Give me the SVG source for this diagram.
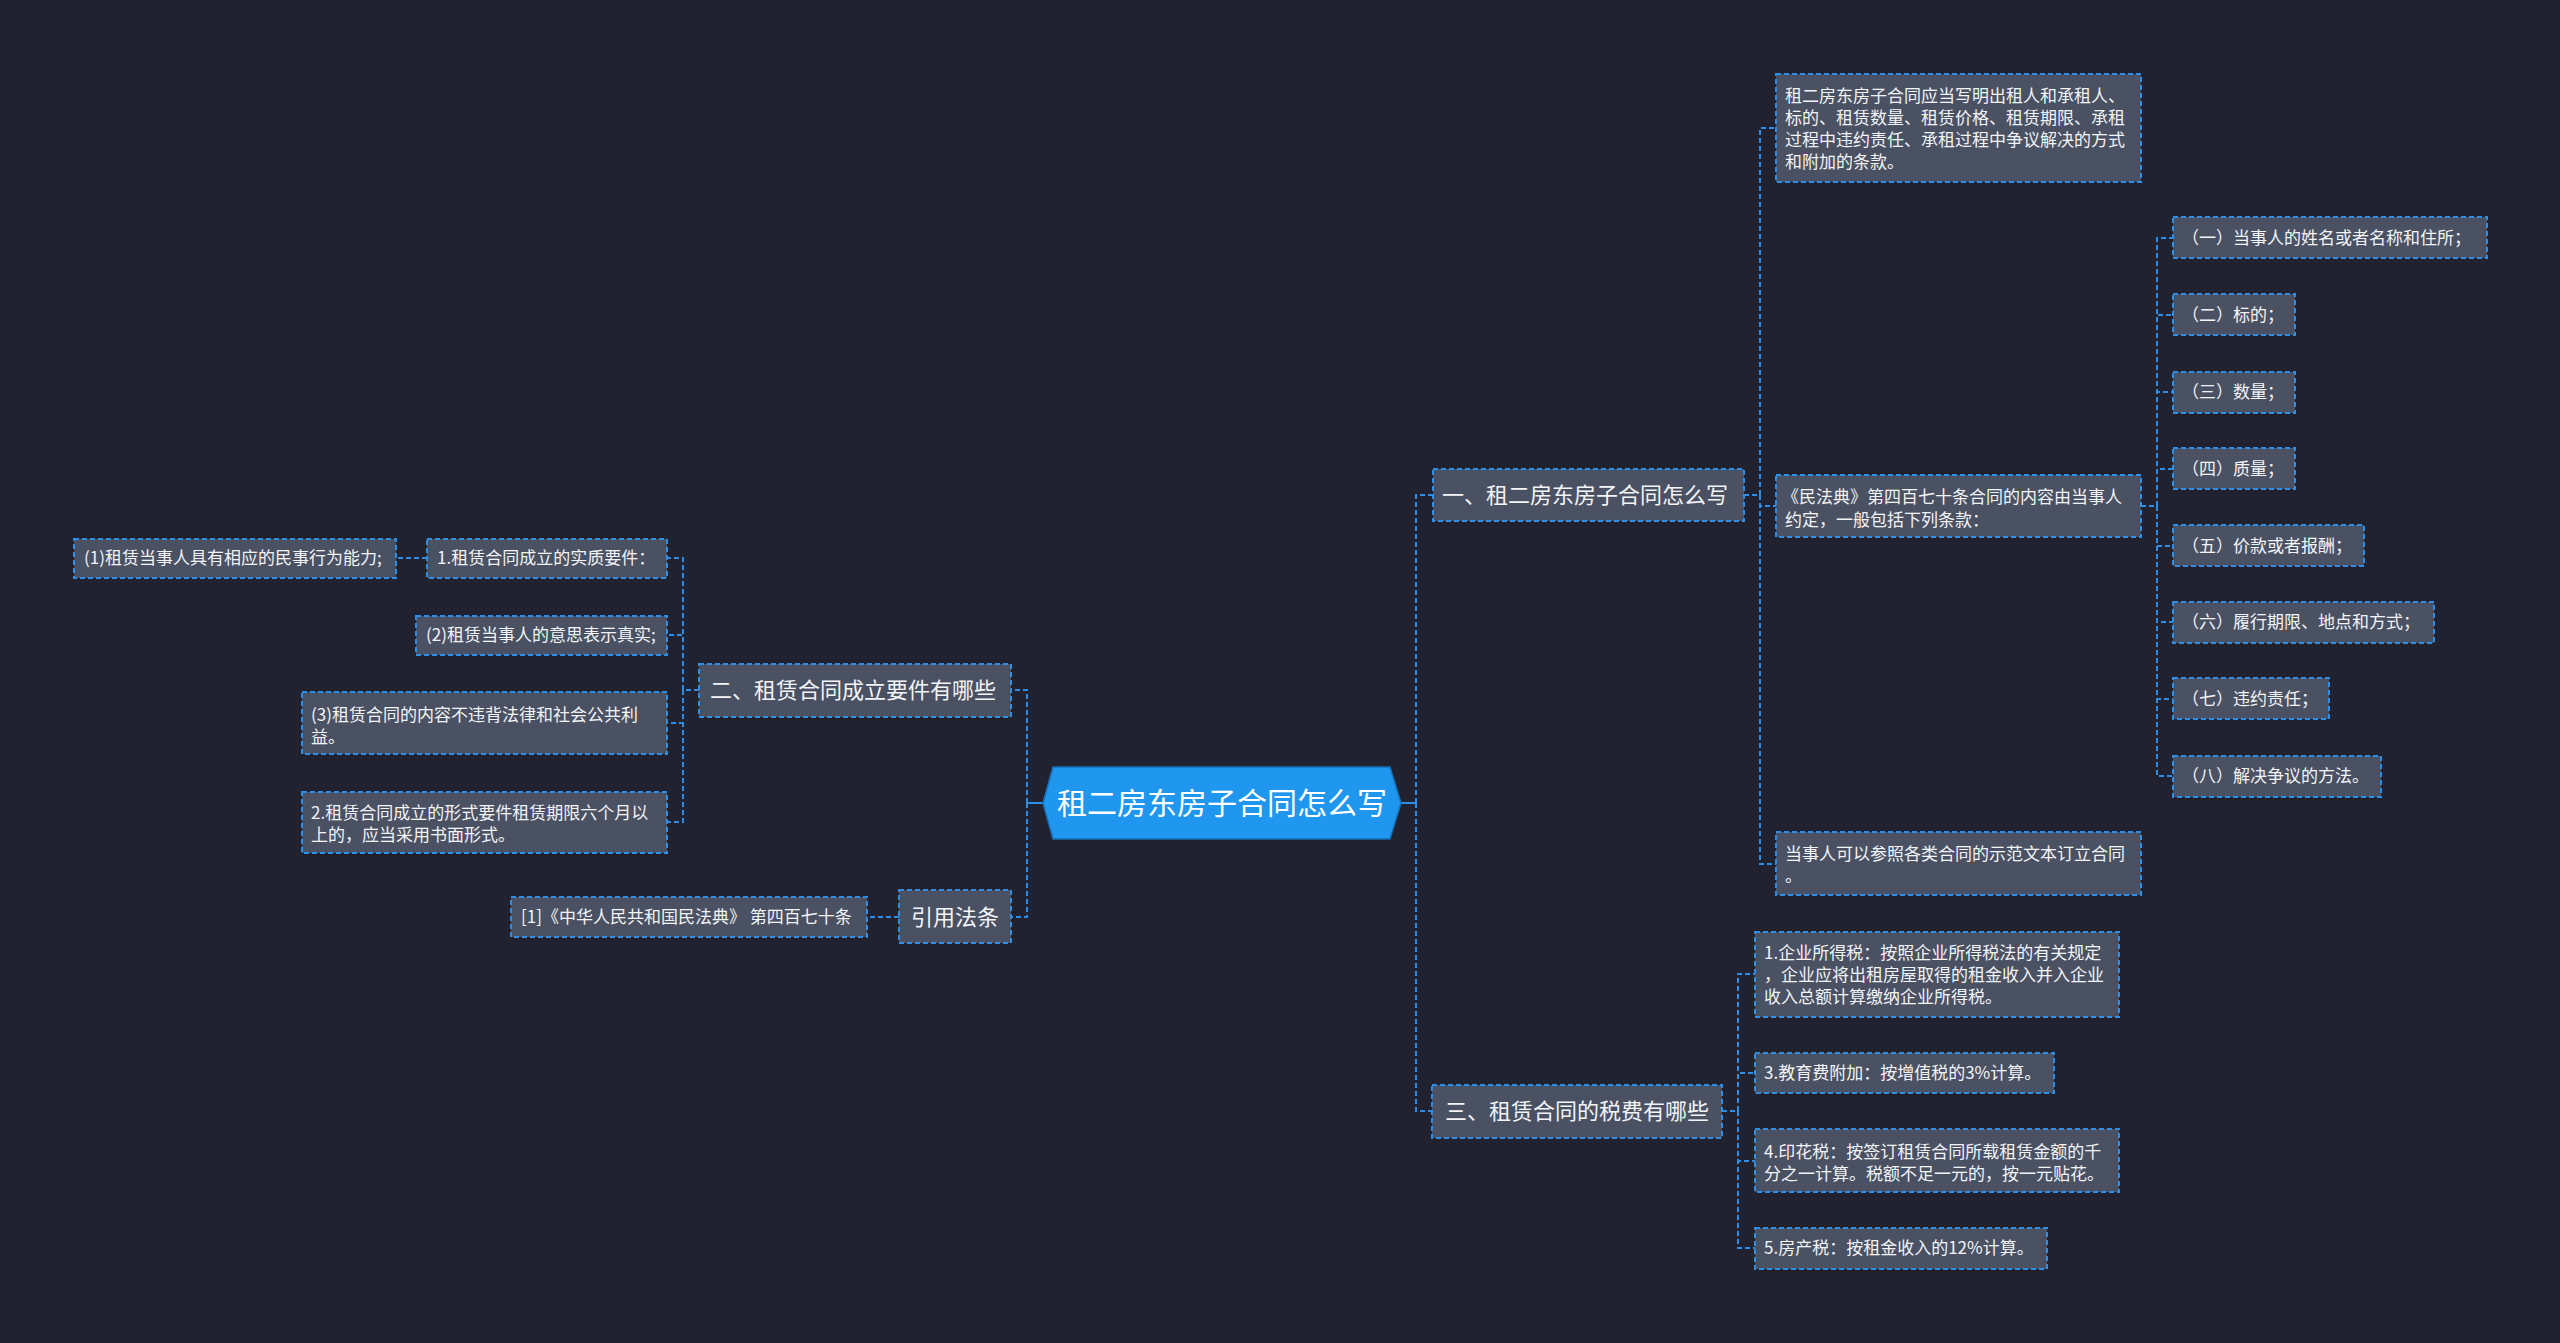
<svg xmlns="http://www.w3.org/2000/svg" width="2560" height="1343" viewBox="0 0 2560 1343">
<style>
.bg{fill:#20232f}
.box{fill:#4a5162;stroke:#2d8ee6;stroke-width:2;stroke-dasharray:5 3}
.ln{fill:none;stroke:#2d8ee6;stroke-width:2;stroke-dasharray:5 3}
.solid{fill:none;stroke:#2d8ee6;stroke-width:2}
text{font-family:"Noto Sans CJK SC","Noto Sans",sans-serif;fill:#f2f4f8}
.t{font-size:17px}
.b{font-size:22px}
.c{font-size:30px;fill:#ffffff}
</style>
<rect class="bg" x="0" y="0" width="2560" height="1343"/>
<g id="connectors">
  <path class="solid" d="M1401,803 H1416"/>
  <path class="solid" d="M1043,803 H1027"/>
  <path class="ln" d="M1416,803 V495 H1433"/>
  <path class="ln" d="M1416,803 V1111 H1432"/>
  <path class="ln" d="M1027,803 V690 H1011"/>
  <path class="ln" d="M1027,803 V917 H1011"/>
  <path class="ln" d="M1744,495 H1760 V128 H1776"/>
  <path class="ln" d="M1744,495 H1760 V506 H1776"/>
  <path class="ln" d="M1744,495 H1760 V864 H1776"/>
  <path class="ln" d="M2141,506 H2157 V238 H2173"/>
  <path class="ln" d="M2141,506 H2157 V315 H2173"/>
  <path class="ln" d="M2141,506 H2157 V392 H2173"/>
  <path class="ln" d="M2141,506 H2157 V469 H2173"/>
  <path class="ln" d="M2141,506 H2157 V546 H2173"/>
  <path class="ln" d="M2141,506 H2157 V622 H2173"/>
  <path class="ln" d="M2141,506 H2157 V699 H2173"/>
  <path class="ln" d="M2141,506 H2157 V776 H2173"/>
  <path class="ln" d="M699,690 H683 V558 H667"/>
  <path class="ln" d="M699,690 H683 V635 H667"/>
  <path class="ln" d="M699,690 H683 V723 H667"/>
  <path class="ln" d="M699,690 H683 V822 H667"/>
  <path class="ln" d="M427,558 H396"/>
  <path class="ln" d="M899,917 H867"/>
  <path class="ln" d="M1722,1111 H1738 V974 H1755"/>
  <path class="ln" d="M1722,1111 H1738 V1073 H1755"/>
  <path class="ln" d="M1722,1111 H1738 V1161 H1755"/>
  <path class="ln" d="M1722,1111 H1738 V1248 H1755"/>
</g>
<g id="center">
  <polygon points="1053,767 1390,767 1401,803 1390,839 1053,839 1043,803" fill="#1f97ee" stroke="#1670b8" stroke-width="1.5"/>
  <text class="c" x="1222" y="814" text-anchor="middle">租二房东房子合同怎么写</text>
</g>
<g id="b1">
  <rect class="box" x="1433" y="469" width="311" height="52"/>
  <text class="b" x="1442" y="503">一、租二房东房子合同怎么写</text>
</g>
<g id="b1-n1">
  <rect class="box" x="1776" y="74" width="365" height="108"/>
  <text class="t" x="1785" y="102">租二房东房子合同应当写明出租人和承租人、</text>
  <text class="t" x="1785" y="124">标的、租赁数量、租赁价格、租赁期限、承租</text>
  <text class="t" x="1785" y="146">过程中违约责任、承租过程中争议解决的方式</text>
  <text class="t" x="1785" y="168">和附加的条款。</text>
</g>
<g id="b1-n2">
  <rect class="box" x="1776" y="475" width="365" height="62"/>
  <text class="t" x="1782" y="503">《民法典》第四百七十条合同的内容由当事人</text>
  <text class="t" x="1785" y="526">约定，一般包括下列条款：</text>
</g>
<g id="b1-n3">
  <rect class="box" x="1776" y="832" width="365" height="63"/>
  <text class="t" x="1785" y="860">当事人可以参照各类合同的示范文本订立合同</text>
  <text class="t" x="1785" y="882">。</text>
</g>
<g id="c1"><rect class="box" x="2173" y="217" width="314" height="41"/><text class="t" x="2182" y="244">（一）当事人的姓名或者名称和住所；</text></g>
<g id="c2"><rect class="box" x="2173" y="294" width="122" height="41"/><text class="t" x="2182" y="321">（二）标的；</text></g>
<g id="c3"><rect class="box" x="2173" y="372" width="122" height="41"/><text class="t" x="2182" y="398">（三）数量；</text></g>
<g id="c4"><rect class="box" x="2173" y="448" width="122" height="41"/><text class="t" x="2182" y="475">（四）质量；</text></g>
<g id="c5"><rect class="box" x="2173" y="525" width="191" height="41"/><text class="t" x="2182" y="552">（五）价款或者报酬；</text></g>
<g id="c6"><rect class="box" x="2173" y="602" width="261" height="41"/><text class="t" x="2182" y="628">（六）履行期限、地点和方式；</text></g>
<g id="c7"><rect class="box" x="2173" y="678" width="156" height="41"/><text class="t" x="2182" y="705">（七）违约责任；</text></g>
<g id="c8"><rect class="box" x="2173" y="756" width="208" height="41"/><text class="t" x="2182" y="782">（八）解决争议的方法。</text></g>
<g id="b2">
  <rect class="box" x="699" y="664" width="312" height="53"/>
  <text class="b" x="710" y="698">二、租赁合同成立要件有哪些</text>
</g>
<g id="b2-n1">
  <rect class="box" x="427" y="539" width="240" height="39"/>
  <text class="t" x="437" y="564">1.租赁合同成立的实质要件：</text>
</g>
<g id="b2-n1-a">
  <rect class="box" x="74" y="539" width="322" height="39"/>
  <text class="t" x="84" y="564">(1)租赁当事人具有相应的民事行为能力;</text>
</g>
<g id="b2-n2">
  <rect class="box" x="416" y="616" width="251" height="39"/>
  <text class="t" x="426" y="641">(2)租赁当事人的意思表示真实;</text>
</g>
<g id="b2-n3">
  <rect class="box" x="302" y="692" width="365" height="62"/>
  <text class="t" x="311" y="721">(3)租赁合同的内容不违背法律和社会公共利</text>
  <text class="t" x="311" y="743">益。</text>
</g>
<g id="b2-n4">
  <rect class="box" x="302" y="792" width="365" height="61"/>
  <text class="t" x="311" y="819">2.租赁合同成立的形式要件租赁期限六个月以</text>
  <text class="t" x="311" y="841">上的，应当采用书面形式。</text>
</g>
<g id="ref">
  <rect class="box" x="899" y="890" width="112" height="53"/>
  <text class="b" x="911" y="925">引用法条</text>
</g>
<g id="ref-n1">
  <rect class="box" x="511" y="897" width="356" height="40"/>
  <text class="t" x="521" y="923">[1]《中华人民共和国民法典》 第四百七十条</text>
</g>
<g id="b3">
  <rect class="box" x="1432" y="1085" width="290" height="53"/>
  <text class="b" x="1445" y="1119">三、租赁合同的税费有哪些</text>
</g>
<g id="b3-n1">
  <rect class="box" x="1755" y="932" width="364" height="85"/>
  <text class="t" x="1764" y="959">1.企业所得税：按照企业所得税法的有关规定</text>
  <text class="t" x="1764" y="981">，企业应将出租房屋取得的租金收入并入企业</text>
  <text class="t" x="1764" y="1003">收入总额计算缴纳企业所得税。</text>
</g>
<g id="b3-n2">
  <rect class="box" x="1755" y="1053" width="299" height="40"/>
  <text class="t" x="1764" y="1079">3.教育费附加：按增值税的3%计算。</text>
</g>
<g id="b3-n3">
  <rect class="box" x="1755" y="1129" width="364" height="63"/>
  <text class="t" x="1764" y="1158">4.印花税：按签订租赁合同所载租赁金额的千</text>
  <text class="t" x="1764" y="1180">分之一计算。税额不足一元的，按一元贴花。</text>
</g>
<g id="b3-n4">
  <rect class="box" x="1755" y="1228" width="292" height="41"/>
  <text class="t" x="1764" y="1254">5.房产税：按租金收入的12%计算。</text>
</g>
</svg>
